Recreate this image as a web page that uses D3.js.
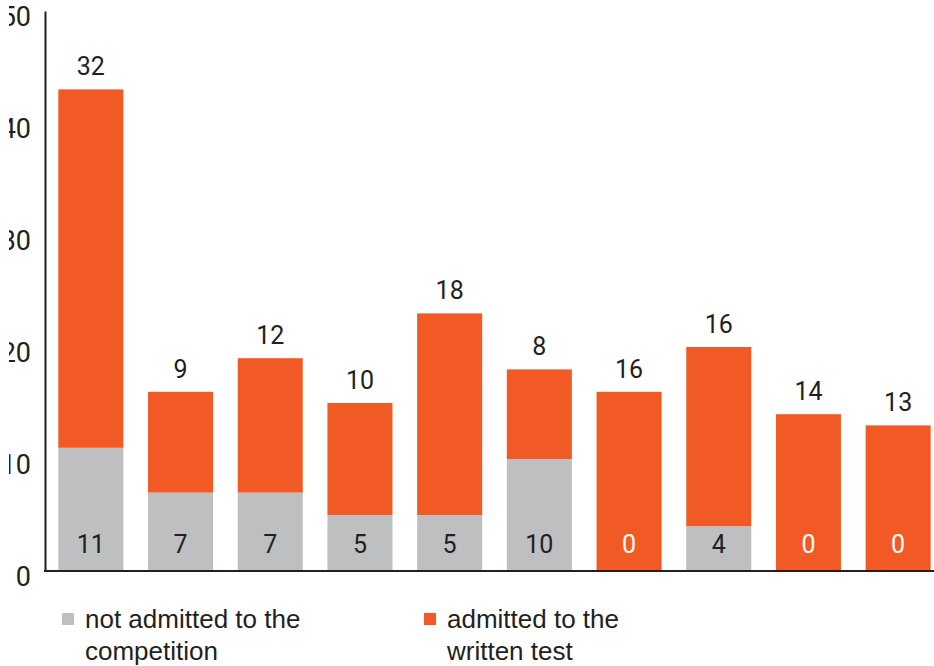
<!DOCTYPE html>
<html>
<head>
<meta charset="utf-8">
<script src="https://cdn.jsdelivr.net/npm/d3@7"></script>
<style>
  body { margin: 0; background: #fff; }
  text { font-family: Roboto, "Noto Sans", sans-serif; fill: #231f20; }
</style>
</head>
<body>
<div id="chart"></div>
<script>
// chart data
const categories = ["A", "B", "C", "D", "E", "F", "G", "H", "I", "J"];
const notAdmitted = [11, 7, 7, 5, 5, 10, 0, 4, 0, 0];
const admitted = [32, 9, 12, 10, 18, 8, 16, 16, 14, 13];
const yTicks = [0, 10, 20, 30, 40, 50];
const legendLabels = [["not admitted to the", "competition"], ["admitted to the", "written test"]];

const W = 934, H = 666;
const grey = "#bebfc1", orange = "#f15a24";

const svg = d3.select("#chart").append("svg")
  .attr("width", W)
  .attr("height", H);

// the original picture is cut on the left, tick labels lose their first digit
svg.append("clipPath")
  .attr("id", "leftcut")
  .append("rect")
  .attr("x", 9).attr("y", 0)
  .attr("width", W).attr("height", H);

const x = d3.scaleBand()
  .domain(categories)
  .range([46, 943])
  .paddingInner(0.275)
  .paddingOuter(0.1375);

const y = d3.scaleLinear()
  .domain([0, 50])
  .range([571, 11]);

// grey part (bottom)
svg.selectAll(".bar-grey")
  .data(categories)
  .enter().append("rect")
  .attr("x", d => x(d))
  .attr("width", x.bandwidth())
  .attr("y", (d, i) => y(notAdmitted[i]))
  .attr("height", (d, i) => y(0) - y(notAdmitted[i]))
  .attr("fill", grey);

// orange part (stacked on top)
svg.selectAll(".bar-orange")
  .data(categories)
  .enter().append("rect")
  .attr("x", d => x(d))
  .attr("width", x.bandwidth())
  .attr("y", (d, i) => y(notAdmitted[i] + admitted[i]))
  .attr("height", (d, i) => y(notAdmitted[i]) - y(notAdmitted[i] + admitted[i]))
  .attr("fill", orange);

// labels above bars
svg.selectAll(".top-label")
  .data(categories)
  .enter().append("text")
  .attr("x", d => x(d) + x.bandwidth() / 2)
  .attr("y", (d, i) => y(notAdmitted[i] + admitted[i]) - 14)
  .attr("text-anchor", "middle")
  .style("font-size", "25px")
  .text((d, i) => admitted[i]);

// labels inside bottom of bars
svg.selectAll(".bottom-label")
  .data(categories)
  .enter().append("text")
  .attr("x", d => x(d) + x.bandwidth() / 2)
  .attr("y", y(0) - 18)
  .attr("text-anchor", "middle")
  .style("font-size", "25px")
  .style("fill", (d, i) => notAdmitted[i] === 0 ? "#fff" : "#231f20")
  .text((d, i) => notAdmitted[i]);

// y axis (wrapped so the clip works in svg space)
const yWrap = svg.append("g").attr("clip-path", "url(#leftcut)");
const yAxis = yWrap.append("g")
  .attr("transform", "translate(45,0)")
  .call(d3.axisLeft(y).tickValues(yTicks).tickSize(0).tickPadding(14));
yAxis.select(".domain").attr("stroke", "#231f20").attr("stroke-width", 2);
yAxis.selectAll("text")
  .style("font-size", "27px")
  .attr("dy", "0.55em")
  .style("fill", "#231f20");

// x axis baseline
svg.append("line")
  .attr("x1", 44).attr("x2", W)
  .attr("y1", y(0)).attr("y2", y(0))
  .attr("stroke", "#231f20")
  .attr("stroke-width", 2);

// legend
const legend = svg.selectAll(".legend")
  .data(legendLabels)
  .enter().append("g")
  .attr("class", "legend")
  .attr("transform", (d, i) => `translate(${i === 0 ? 62 : 424},0)`);

legend.append("rect")
  .attr("x", 0)
  .attr("y", 613)
  .attr("width", 12)
  .attr("height", 12)
  .attr("fill", (d, i) => i === 0 ? grey : orange);

legend.append("text")
  .attr("x", 23)
  .attr("y", 628)
  .style("font-size", "26px")
  .style("font-family", "'Liberation Sans', Arial, sans-serif")
  .selectAll("tspan")
  .data(d => d)
  .enter().append("tspan")
  .attr("x", 23)
  .attr("dy", (d, i) => i === 0 ? 0 : 32)
  .text(d => d);
</script>
</body>
</html>
